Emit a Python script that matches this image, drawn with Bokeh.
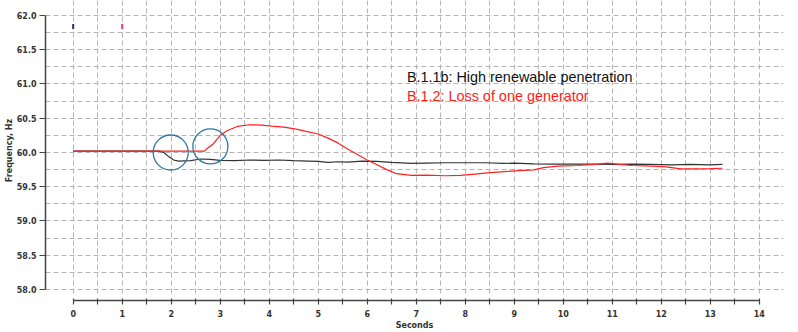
import numpy as np
from bokeh.plotting import figure
from bokeh.models import FixedTicker, NumeralTickFormatter, Label, Range1d
from bokeh.embed import file_html
from bokeh.resources import INLINE

# ---- data ----
black_t = [0.0, 1.75, 1.85, 1.95, 2.05, 2.15, 2.4, 2.6, 2.8, 3.0, 3.3, 3.6, 3.9, 4.2, 4.5,
           4.8, 5.0, 5.2, 5.4, 5.6, 5.9, 6.2, 6.5, 6.9, 7.2, 7.6, 8.0, 8.4, 8.8, 9.0, 9.4,
           9.8, 10.2, 10.6, 11.0, 11.4, 11.8, 12.2, 12.6, 13.0, 13.25]
black_f = [60.02, 60.02, 60.0, 59.94, 59.89, 59.875, 59.88, 59.905, 59.90, 59.885, 59.88,
           59.89, 59.885, 59.89, 59.88, 59.875, 59.87, 59.855, 59.865, 59.86, 59.875, 59.87,
           59.855, 59.84, 59.845, 59.85, 59.85, 59.85, 59.84, 59.845, 59.835, 59.83, 59.83,
           59.83, 59.825, 59.83, 59.825, 59.82, 59.825, 59.82, 59.825]

red_t = [0.0, 2.68, 2.72, 2.85, 3.0, 3.15, 3.35, 3.6, 3.85, 4.05, 4.3, 4.55, 4.8, 5.0, 5.2,
         5.4, 5.6, 5.8, 6.0, 6.2, 6.4, 6.6, 6.9, 7.2, 7.6, 7.9, 8.2, 8.5, 8.8, 9.1, 9.4, 9.6,
         9.9, 10.3, 10.7, 10.9, 11.1, 11.4, 11.8, 12.1, 12.4, 12.7, 13.0, 13.25]
red_f = [60.02, 60.02, 60.05, 60.12, 60.25, 60.32, 60.38, 60.405, 60.40, 60.385, 60.37,
         60.34, 60.30, 60.27, 60.21, 60.14, 60.05, 59.97, 59.89, 59.82, 59.75, 59.69, 59.665,
         59.67, 59.66, 59.665, 59.685, 59.705, 59.72, 59.735, 59.745, 59.78, 59.80, 59.81,
         59.83, 59.845, 59.83, 59.81, 59.80, 59.79, 59.76, 59.76, 59.765, 59.77]

circle_t = [1.99, 2.80]
circle_f = [60.0, 60.088]

mark_t = [0.0, 1.0]
mark_f = [61.84, 61.84]
mark_colors = ["#3a2a6a", "#e0407a"]

x_ticks = list(range(0, 15))
x_minor = [i + 0.5 for i in range(0, 14)]
y_ticks = [58.0, 58.5, 59.0, 59.5, 60.0, 60.5, 61.0, 61.5, 62.0]
x_grid = [i * 0.5 for i in range(0, 29)]
y_grid = [58.0 + i * 0.25 for i in range(0, 17)]

legend_texts = ["B.1.1b: High renewable penetration", "B.1.2: Loss of one generator"]
legend_colors = ["#111111", "#ff1a1a"]
legend_x = 6.81
legend_y = [61.109, 60.818]

# ---- figure ----
p = figure(width=798, height=332, output_backend="svg", toolbar_location=None,
           x_range=Range1d(-0.565, 14.496), y_range=Range1d(57.839, 62.219),
           min_border_left=45, min_border_right=15, min_border_top=0, min_border_bottom=32)
p.outline_line_color = None
p.background_fill_color = "white"
p.border_fill_color = "white"

# grids
grid_color = "#b4b4b4"
p.xgrid.ticker = FixedTicker(ticks=x_grid)
p.xgrid.bounds = (0, 14)
p.xgrid.cross_bounds = (57.94, 62.219)
p.ygrid.ticker = FixedTicker(ticks=y_grid)
p.ygrid.bounds = (58, 62)
for g in (p.xgrid, p.ygrid):
    g.grid_line_color = grid_color
    g.grid_line_dash = "5 3"
    g.grid_line_width = 1

# axes
axis_col = "#444444"
p.xaxis.ticker = FixedTicker(ticks=x_ticks, minor_ticks=x_minor)
p.xaxis.bounds = (0, 14)
p.xaxis.axis_label = "Seconds"
p.xaxis.major_label_standoff = 5
p.xaxis.axis_label_standoff = 1

p.yaxis.ticker = FixedTicker(ticks=y_ticks, minor_ticks=[])
p.yaxis.formatter = NumeralTickFormatter(format="0.0")
p.yaxis.bounds = (58, 62)
p.yaxis.axis_label = "Frequency, Hz"
p.yaxis.major_label_standoff = 3
p.yaxis.axis_label_standoff = 0

for ax in (p.xaxis, p.yaxis):
    ax.axis_line_color = axis_col
    ax.axis_line_width = 1.5
    ax.major_tick_line_color = axis_col
    ax.minor_tick_line_color = axis_col
    ax.major_tick_line_width = 1.2
    ax.minor_tick_line_width = 1.2
    ax.major_label_text_font = "DejaVu Sans"
    ax.major_label_text_font_size = "8px"
    ax.major_label_text_font_style = "bold"
    ax.major_label_text_color = "#333333"
    ax.axis_label_text_font = "DejaVu Sans"
    ax.axis_label_text_font_size = "8px"
    ax.axis_label_text_font_style = "bold"
    ax.axis_label_text_color = "#333333"

p.xaxis.major_tick_in = 2
p.xaxis.major_tick_out = 4
p.xaxis.minor_tick_in = 2
p.xaxis.minor_tick_out = 4
p.yaxis.major_tick_in = 0
p.yaxis.major_tick_out = 6
p.yaxis.minor_tick_in = 0
p.yaxis.minor_tick_out = 0

# data lines
p.line(black_t, black_f, line_color="#333333", line_width=1.2)
p.line(red_t, red_f, line_color="#ff2020", line_width=1.2)

# highlight circles
p.scatter(circle_t, circle_f, marker="circle", size=35, fill_color=None,
          line_color="#2a78a8", line_width=1.3)

# small marks at top
p.scatter(mark_t, mark_f, marker="dash", angle=np.pi / 2, size=5,
          line_color=mark_colors, line_width=2)

# legend texts
for txt, col, yy in zip(legend_texts, legend_colors, legend_y):
    p.add_layout(Label(x=legend_x, y=yy, text=txt, text_color=col,
                       text_font="Liberation Sans", text_font_size="14.4px",
                       text_baseline="alphabetic", text_align="left"))

open("out.html", "w").write(file_html(p, INLINE))
